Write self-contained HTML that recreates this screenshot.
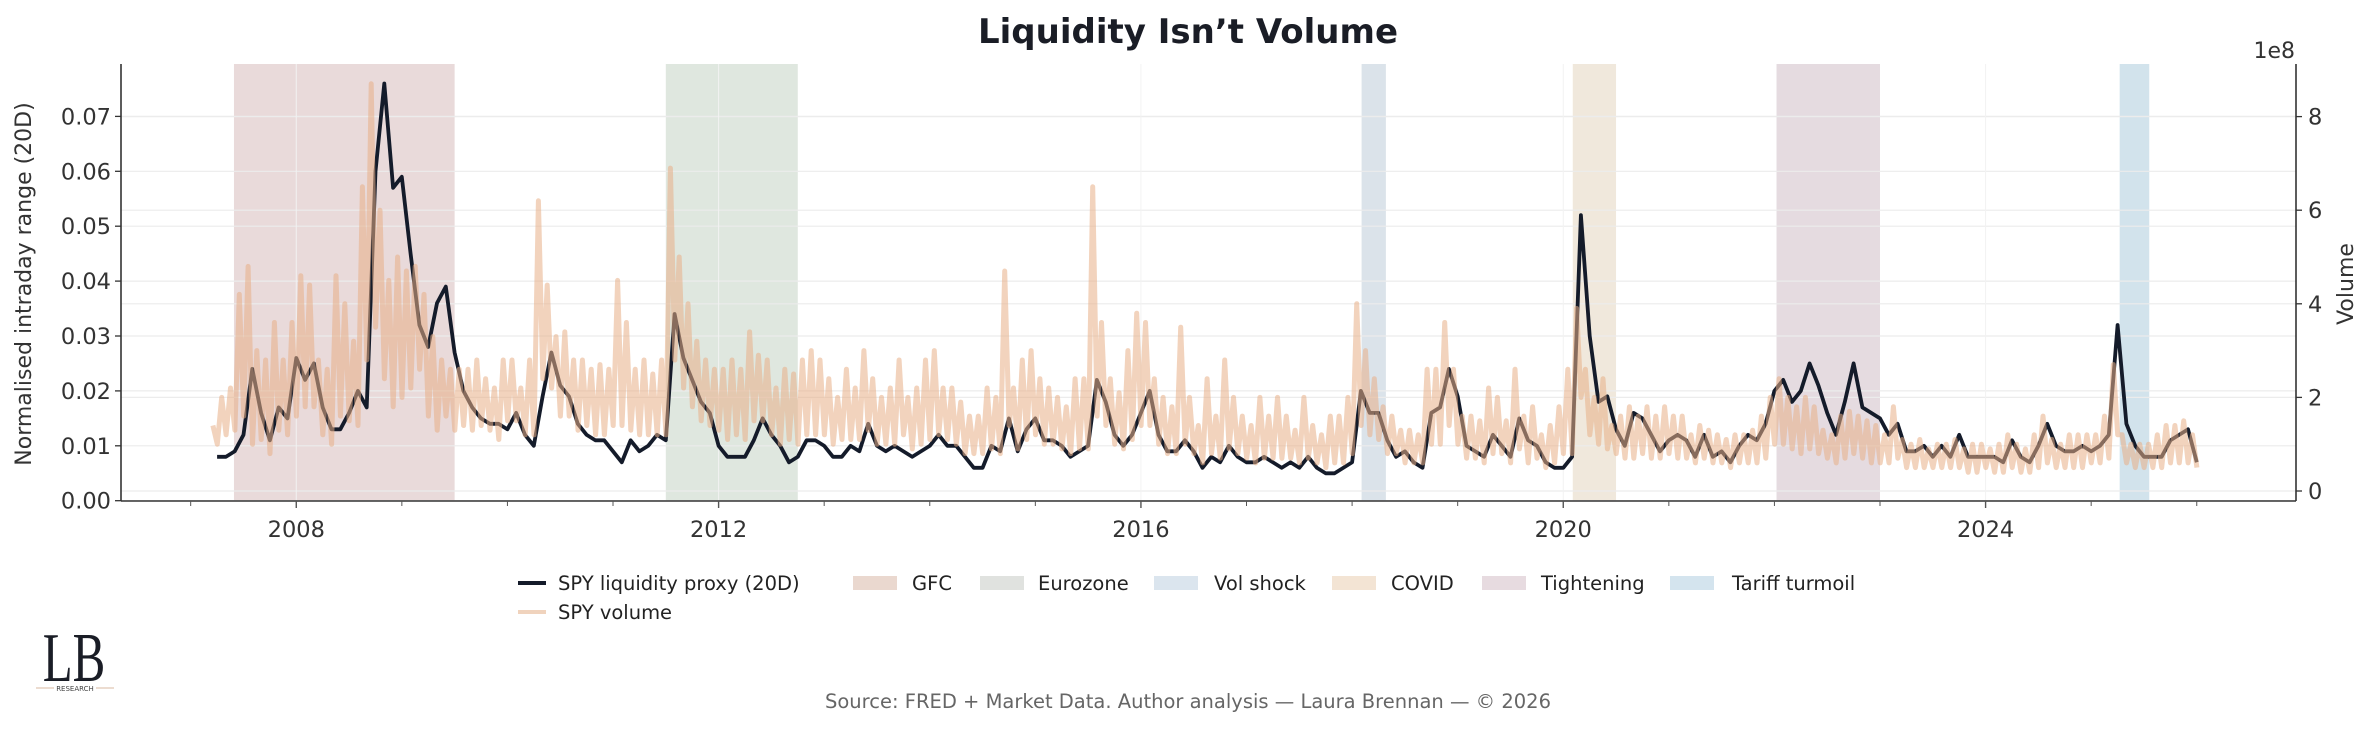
<!DOCTYPE html>
<html><head><meta charset="utf-8">
<style>
body{margin:0;background:#fff;}
svg{display:block;font-family:"DejaVu Sans","Liberation Sans",sans-serif;}
</style></head>
<body>
<svg id="chart" width="2376" height="736" viewBox="0 0 2376 736">
<text x="1188" y="43" text-anchor="middle" font-size="34" font-weight="bold" fill="#1a1d26">Liquidity Isn’t Volume</text>
<g id="plot"></g>
<text transform="translate(31,284) rotate(-90)" text-anchor="middle" font-size="22" fill="#333">Normalised intraday range (20D)</text>
<text transform="translate(2353,284) rotate(-90)" text-anchor="middle" font-size="22" fill="#333">Volume</text>
<text x="2295" y="58" text-anchor="end" font-size="22" fill="#333">1e8</text>
<g font-size="19.5" fill="#222">
  <g><line x1="518" y1="583" x2="546" y2="583" stroke="#141b2a" stroke-width="4"/><text x="558" y="590">SPY liquidity proxy (20D)</text></g>
  <g><line x1="518" y1="612" x2="546" y2="612" stroke="#f0d3bd" stroke-width="4"/><text x="558" y="619">SPY volume</text></g>
  <g><rect x="853" y="576" width="44" height="14" fill="#ead8cf"/><text x="912" y="590">GFC</text></g>
  <g><rect x="980" y="576" width="44" height="14" fill="#e0e2df"/><text x="1038" y="590">Eurozone</text></g>
  <g><rect x="1154" y="576" width="44" height="14" fill="#dbe5ee"/><text x="1214" y="590">Vol shock</text></g>
  <g><rect x="1332" y="576" width="44" height="14" fill="#f3e4d4"/><text x="1391" y="590">COVID</text></g>
  <g><rect x="1482" y="576" width="44" height="14" fill="#e7dbe0"/><text x="1541" y="590">Tightening</text></g>
  <g><rect x="1670" y="576" width="44" height="14" fill="#d4e4ee"/><text x="1732" y="590">Tariff turmoil</text></g>
</g>
<g>
  <text x="74" y="681" text-anchor="middle" font-family="Liberation Serif,serif" font-size="70" fill="#1a1d26" transform="translate(74,0) scale(0.7,1) translate(-74,0)">LB</text>
  <line x1="36" y1="688" x2="54" y2="688" stroke="#d9b8a0" stroke-width="1"/>
  <line x1="96" y1="688" x2="114" y2="688" stroke="#d9b8a0" stroke-width="1"/>
  <text x="75" y="691" text-anchor="middle" font-size="7" fill="#444">RESEARCH</text>
</g>
<text x="1188" y="708" text-anchor="middle" font-size="19.5" fill="#666">Source: FRED + Market Data. Author analysis — Laura Brennan — © 2026</text>
</svg>
<script>
const liqStart = 2007.25;
const liquidity = [
.008,.008,.009,.012,.024,.016,.011,.017,.015,
.026,.022,.025,.017,.013,.013,.016,.020,.017,.060,.076,.057,
.059,.045,.032,.028,.036,.039,.027,.020,.017,.015,.014,.014,
.013,.016,.012,.010,.019,.027,.021,.019,.014,.012,.011,.011,
.009,.007,.011,.009,.010,.012,.011,.034,.026,.022,.018,.016,
.010,.008,.008,.008,.011,.015,.012,.010,.007,.008,.011,.011,
.010,.008,.008,.010,.009,.014,.010,.009,.010,.009,.008,.009,
.010,.012,.010,.010,.008,.006,.006,.010,.009,.015,.009,.013,
.015,.011,.011,.010,.008,.009,.010,.022,.018,.012,.010,.012,
.016,.020,.012,.009,.009,.011,.009,.006,.008,.007,.010,.008,
.007,.007,.008,.007,.006,.007,.006,.008,.006,.005,.005,.006,
.007,.020,.016,.016,.011,.008,.009,.007,.006,.016,.017,.024,
.019,.010,.009,.008,.012,.010,.008,.015,.011,.010,.007,.006,
.006,.008,.052,.030,.018,.019,.013,.010,.016,.015,.012,.009,
.011,.012,.011,.008,.012,.008,.009,.007,.010,.012,.011,.014,
.020,.022,.018,.020,.025,.021,.016,.012,.018,.025,.017,.016,
.015,.012,.014,.009,.009,.010,.008,.010,.008,.012,.008,.008,
.008,.008,.007,.011,.008,.007,.010,.014,.010,.009,.009,.010,
.009,.010,.012,.032,.014,.010,.008,.008,.008,.011,.012,.013,
.007];
const volumeHigh = [
1.4,2.0,2.2,4.2,4.8,3.0,2.8,3.6,2.8,
3.6,4.6,4.4,2.8,2.6,4.6,4.0,3.2,6.5,8.7,6.0,4.5,
5.0,4.7,4.8,4.2,3.3,2.8,2.6,2.6,2.6,2.8,2.4,2.2,
2.8,2.8,2.2,2.8,6.2,4.4,3.3,3.4,2.8,2.8,2.6,2.7,
2.6,4.5,3.6,2.6,2.8,2.5,2.8,6.9,5.0,4.0,3.2,2.8,
2.6,2.6,2.8,2.6,3.4,2.9,2.8,2.2,2.6,2.5,2.8,3.0,
2.8,2.4,2.0,2.6,2.2,3.0,2.4,2.0,2.2,2.8,2.0,2.2,
2.8,3.0,2.2,2.2,1.9,1.6,1.6,2.2,2.0,4.7,2.2,2.8,
3.0,2.4,2.2,2.0,1.8,2.4,2.4,6.5,3.6,2.4,2.1,3.0,
3.8,3.6,2.4,2.0,1.8,3.5,2.0,1.4,2.4,1.6,2.8,2.0,
1.6,1.4,2.0,1.6,2.0,1.6,1.3,2.0,1.4,1.2,1.6,1.6,
2.0,4.0,3.0,2.4,1.8,1.6,1.3,1.3,1.2,2.6,2.6,3.6,
2.6,1.6,1.6,1.5,2.2,2.0,1.5,2.6,1.6,1.8,1.2,1.4,
1.8,2.6,3.9,2.6,2.0,2.4,1.4,1.6,1.8,1.6,1.8,1.6,
1.8,1.6,1.6,1.2,1.4,1.3,1.2,1.1,1.2,1.2,1.3,1.6,
2.0,2.4,2.0,1.8,2.0,1.8,1.3,1.2,1.6,1.7,1.6,1.5,
1.4,1.2,1.8,1.1,1.0,1.1,0.9,1.0,1.0,1.1,0.9,1.0,
1.0,0.9,1.0,1.2,1.0,0.9,1.2,1.6,1.1,1.0,1.2,1.2,
1.2,1.2,1.6,2.7,1.2,1.0,1.0,1.0,1.2,1.4,1.4,1.5,
1.2];
const volumeLow = [
1.0,1.2,1.3,1.6,1.0,1.1,0.8,1.3,1.2,
1.6,1.8,1.8,1.2,1.0,1.6,1.5,1.4,2.8,3.5,2.4,1.8,
2.0,2.2,2.6,1.6,1.3,1.6,1.3,1.4,1.3,1.4,1.3,1.1,
1.5,1.5,1.2,1.2,2.4,2.2,1.6,1.6,1.3,1.4,1.2,1.2,
1.4,1.4,1.3,1.2,1.2,1.2,1.2,2.8,2.2,1.8,1.5,1.4,
1.3,1.1,1.2,1.1,1.5,1.5,1.2,1.0,1.1,1.0,1.2,1.2,
1.2,1.0,1.1,1.1,1.1,1.3,1.0,1.0,1.0,1.2,0.9,1.0,
1.1,1.2,1.1,1.0,0.8,0.8,0.8,0.9,0.8,1.4,0.9,1.1,
1.2,1.0,1.0,0.9,0.8,0.9,0.9,1.6,1.4,1.0,0.9,1.1,
1.4,1.4,1.0,0.8,0.8,1.0,0.8,0.6,0.8,0.7,0.9,0.8,
0.7,0.6,0.7,0.7,0.7,0.7,0.6,0.7,0.6,0.5,0.6,0.6,
0.8,1.4,1.2,1.1,0.8,0.8,0.6,0.6,0.6,1.0,1.0,1.4,
1.0,0.7,0.7,0.6,0.8,0.8,0.6,0.9,0.6,0.7,0.5,0.6,
0.8,0.8,2.0,1.2,1.0,0.9,0.8,0.7,0.7,0.8,0.7,0.7,
0.8,0.7,0.7,0.6,0.7,0.6,0.6,0.5,0.6,0.6,0.6,0.7,
1.0,1.0,0.9,0.8,0.9,0.8,0.7,0.6,0.7,0.8,0.7,0.6,
0.6,0.6,0.7,0.5,0.5,0.5,0.5,0.5,0.5,0.5,0.4,0.4,
0.5,0.4,0.4,0.5,0.4,0.4,0.5,0.6,0.5,0.5,0.5,0.5,
0.6,0.6,0.7,1.2,0.6,0.5,0.5,0.5,0.5,0.6,0.6,0.6,
0.5];
const regimeNames = ["GFC","Eurozone","Vol shock","COVID","Tightening","Tariff turmoil"];
const regimeStart = [2007.41,2011.50,2018.09,2020.09,2022.02,2025.27];
const regimeEnd = [2009.50,2012.75,2018.32,2020.50,2023.00,2025.55];
const regimeColors = ["#e9dada","#dfe7df","#dbe3ea","#f0e8dc","#e5dbe0","#d2e3ec"];
const yTicksLeft = [0,0.01,0.02,0.03,0.04,0.05,0.06,0.07];
const yTickLabelsLeft = ["0.00","0.01","0.02","0.03","0.04","0.05","0.06","0.07"];
const yTicksRight = [0,2,4,6,8];
const xMajor = [2008,2012,2016,2020,2024];

const NS="http://www.w3.org/2000/svg";
const plot=document.getElementById('plot');
const L=121,R=2296,T=64,B=501;
const X0=2006.34,X1=2026.94;
const xs=v=>L+(v-X0)/(X1-X0)*(R-L);
const yl=v=>500.7-v*5490;
const yr=v=>491-v*46.8;
function mk(tag,attrs,parent){const e=document.createElementNS(NS,tag);for(const k in attrs)e.setAttribute(k,attrs[k]);(parent||plot).appendChild(e);return e;}

regimeNames.forEach((n,i)=>{
  const r=mk('rect',{x:xs(regimeStart[i]),y:T,width:xs(regimeEnd[i])-xs(regimeStart[i]),height:B-T,fill:regimeColors[i]});
  
  
});
yTicksLeft.forEach(v=>{const g=mk('line',{x1:L,x2:R,y1:yl(v),y2:yl(v),stroke:'#ececec','stroke-width':1.2});
  
  });
yTicksRight.forEach(v=>{const g=mk('line',{x1:L,x2:R,y1:yr(v),y2:yr(v),stroke:'#ececec','stroke-width':1.2});
  
  });
xMajor.forEach(v=>{const g=mk('line',{x1:xs(v),x2:xs(v),y1:T,y2:B,stroke:'#f2f2f2','stroke-width':1});
  
  });

let d='';
liquidity.forEach((v,i)=>{d+=(i?'L':'M')+xs(liqStart+i/12).toFixed(1)+','+yl(v).toFixed(1);});
const liq=mk('path',{d:d,fill:'none',stroke:'#141b2a','stroke-width':3.8,'stroke-linejoin':'round'});



let dv='';
volumeHigh.forEach((v,i)=>{
  const t=liqStart-0.04+i/12;
  dv+=(i?'L':'M')+xs(t).toFixed(1)+','+yr(v).toFixed(1);
  dv+='L'+xs(t+0.5/12).toFixed(1)+','+yr(volumeLow[i]).toFixed(1);
});
const vol=mk('path',{d:dv,fill:'none',stroke:'#e7ae86','stroke-width':5,'stroke-opacity':0.55,'stroke-linejoin':'round'});



const axL=mk('line',{x1:L,x2:L,y1:T,y2:B,stroke:'#333','stroke-width':1.6});


const axR=mk('line',{x1:R,x2:R,y1:T,y2:B,stroke:'#333','stroke-width':1.6});


const axB=mk('line',{x1:L,x2:R,y1:B,y2:B,stroke:'#333','stroke-width':1.6});



yTicksLeft.forEach((v,i)=>{
  mk('line',{x1:L-6,x2:L,y1:yl(v),y2:yl(v),stroke:'#333','stroke-width':1.3});
  const t=mk('text',{x:L-10,y:yl(v)+8,'text-anchor':'end','font-size':22.5,fill:'#333'});
  t.textContent=yTickLabelsLeft[i];
  
  
});
yTicksRight.forEach(v=>{
  mk('line',{x1:R,x2:R+6,y1:yr(v),y2:yr(v),stroke:'#333','stroke-width':1.3});
  const t=mk('text',{x:R+12,y:yr(v)+8,'font-size':22.5,fill:'#333'});
  t.textContent=String(v);
  
  
});
for(let y=2007;y<=2026;y++){
  const major=xMajor.indexOf(y)>=0;
  mk('line',{x1:xs(y),x2:xs(y),y1:B,y2:B+(major?7:5),stroke:'#555','stroke-width':major?1.4:1});
  if(major){const t=mk('text',{x:xs(y),y:B+36,'text-anchor':'middle','font-size':22.5,fill:'#333'});
    t.textContent=String(y);
    
    }
}
</script>
</body></html>
